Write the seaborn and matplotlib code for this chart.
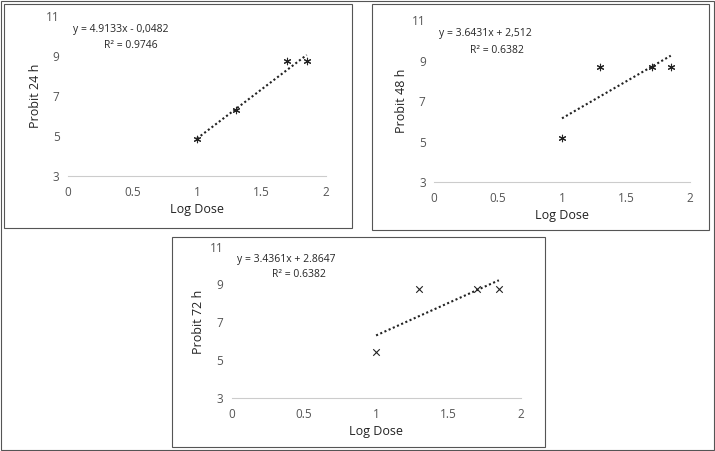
import matplotlib
matplotlib.use("Agg")
import matplotlib.pyplot as plt
from matplotlib.patches import Rectangle
import seaborn as sns
import pandas as pd
import numpy as np

sns.set_style("white")
plt.rcParams['font.family'] = ['Open Sans', 'DejaVu Sans']

log_dose = [1.0, 1.3, 1.7, 1.85]
probit_24 = [4.85, 6.3, 8.75, 8.75]
probit_48 = [5.2, 8.7, 8.7, 8.7]
probit_72 = [5.4, 8.75, 8.75, 8.75]
slopes = [4.9133, 3.6431, 3.4361]
intercepts = [-0.0482, 2.512, 2.8647]
eq_labels = ["y = 4.9133x - 0,0482", "y = 3.6431x + 2,512", "y = 3.4361x + 2.8647"]
r2_labels = ["R² = 0.9746", "R² = 0.6382", "R² = 0.6382"]
y_labels = ["Probit 24 h", "Probit 48 h", "Probit 72 h"]
series = [probit_24, probit_48, probit_72]
markers = [(6, 2, 0), (6, 2, 0), "x"]

fig = plt.figure(figsize=(7.15, 4.51), dpi=100)
W, H = 715, 451
def fbox(x0, y0, x1, y1):
    fig.patches.append(Rectangle((x0 / W, 1 - y1 / H), (x1 - x0) / W, (y1 - y0) / H,
                                 transform=fig.transFigure, fill=False, ec="#555555", lw=0.8))
fbox(1, 1, 714, 450)
fbox(4, 4, 352, 228)
fbox(372, 4, 709, 230)
fbox(172, 237, 545, 447)

axes_pos = [[0.095, 0.61, 0.361, 0.355],
            [0.607, 0.596, 0.358, 0.359],
            [0.324, 0.118, 0.404, 0.335]]

for i, pos in enumerate(axes_pos):
    ax = fig.add_axes(pos)
    df = pd.DataFrame({"x": log_dose, "y": series[i]})
    sns.scatterplot(data=df, x="x", y="y", ax=ax, marker=markers[i], color="#222222",
                    s=22, linewidth=0.8, zorder=3)
    xs = np.array([log_dose[0], log_dose[-1]])
    ax.plot(xs, slopes[i] * xs + intercepts[i], ls=(0, (1, 1.2)), color="#222222", lw=1.5)
    ax.set_xlim(0, 2)
    ax.set_ylim(3, 11)
    ax.set_xticks([0, 0.5, 1, 1.5, 2])
    ax.set_xticklabels(["0", "0.5", "1", "1.5", "2"])
    ax.set_yticks([3, 5, 7, 9, 11])
    ax.tick_params(labelsize=8.5, colors="#555555", length=0)
    ax.tick_params(axis="x", pad=7)
    ax.tick_params(axis="y", pad=6)
    for s in ["top", "right", "left"]:
        ax.spines[s].set_visible(False)
    ax.spines["bottom"].set_color("#cccccc")
    ax.set_xlabel("Log Dose", fontsize=9, color="#222222", labelpad=3)
    ax.set_ylabel(y_labels[i], fontsize=9, color="#222222", labelpad=3)
    ax.text(0.02, 0.95, eq_labels[i], transform=ax.transAxes, fontsize=7.5, va="top")
    ax.text(0.14, 0.85, r2_labels[i], transform=ax.transAxes, fontsize=7.5, va="top")

fig.savefig("out.png", dpi=100)
